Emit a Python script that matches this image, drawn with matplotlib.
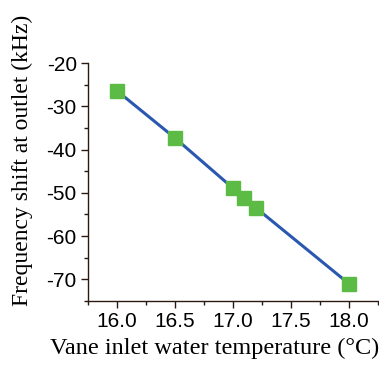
import matplotlib
matplotlib.use('Agg')
import matplotlib.pyplot as plt
import numpy as np

# data
temp = [16.0, 16.5, 17.0, 17.1, 17.2, 18.0]
shift = [-26.4, -37.3, -48.9, -51.2, -53.5, -71.0]
xticks = [16.0, 16.5, 17.0, 17.5, 18.0]
yticks = [-20, -30, -40, -50, -60, -70]

plt.rcParams['axes.unicode_minus'] = False

fig = plt.figure(figsize=(3.79, 3.67), dpi=100)
ax = fig.add_axes([0.232, 0.180, 0.768, 0.648])

ax.plot(temp, shift, color='#2a58b0', lw=2.2, zorder=2)
ax.plot(temp, shift, 's', ms=10, color='#5cbb45', mec='#5cbb45', zorder=3)

ax.set_xlim(15.75, 18.26)
ax.set_ylim(-75, -20)
ax.set_xticks(xticks)
ax.set_xticks(np.arange(15.75, 18.3, 0.25), minor=True)
ax.set_yticks(yticks)
ax.set_yticks(np.arange(-75, -19, 5), minor=True)
ax.set_xticklabels(['%.1f' % v for v in xticks])
ax.set_yticklabels(['%d' % v for v in yticks])

ax.spines['top'].set_visible(False)
ax.spines['right'].set_visible(False)
for s in ['left', 'bottom']:
    ax.spines[s].set_color('#2b1a14')
    ax.spines[s].set_linewidth(1.0)

ax.tick_params(which='both', direction='out', color='#2b1a14')
ax.tick_params(which='major', length=5, width=1.0, labelsize=15, pad=3)
ax.tick_params(which='minor', length=3, width=1.0)
for lab in ax.get_xticklabels() + ax.get_yticklabels():
    lab.set_family('Liberation Sans')

ax.set_xlabel('Vane inlet water temperature (°C)', family='Liberation Serif', fontsize=17.5)
ax.set_ylabel('Frequency shift at outlet (kHz)', family='Liberation Serif', fontsize=17)
ax.xaxis.set_label_coords(0.436, -0.155)
ax.yaxis.set_label_coords(-0.19, 0.592)

fig.savefig('out.png', dpi=100)
